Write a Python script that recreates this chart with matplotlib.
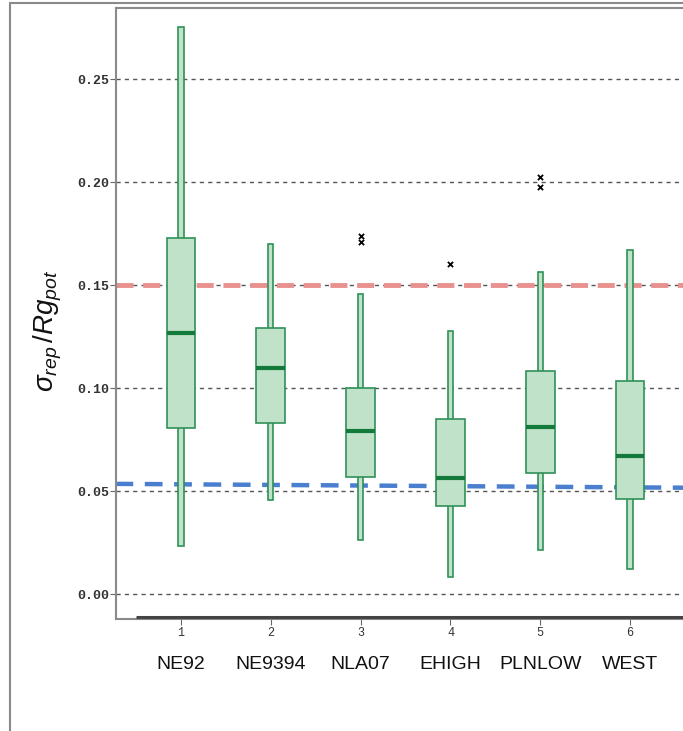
#Import the required packages
import matplotlib
matplotlib.use("Agg")
import matplotlib.pyplot as plt
from matplotlib.patches import Rectangle

plt.rcParams["mathtext.fontset"] = "custom"
plt.rcParams["mathtext.rm"] = "Liberation Sans"
plt.rcParams["mathtext.it"] = "Liberation Sans:italic"
plt.rcParams["hatch.linewidth"] = 0.35

#Data
positions = [1, 2, 3, 4, 5, 6]
regions = ["NE92", "NE9394", "NLA07", "EHIGH", "PLNLOW", "WEST"]
whisker_low = [0.0233, 0.0456, 0.0262, 0.0083, 0.0214, 0.0121]
q1 = [0.0806, 0.0830, 0.0568, 0.0427, 0.0587, 0.0461]
median = [0.1267, 0.1097, 0.0791, 0.0563, 0.0811, 0.0670]
q3 = [0.1728, 0.1290, 0.1000, 0.0850, 0.1083, 0.1034]
whisker_high = [0.2752, 0.1700, 0.1456, 0.1277, 0.1563, 0.1670]
outlier_x = [3, 3, 4, 5, 5]
outlier_y = [0.1738, 0.1709, 0.1600, 0.2024, 0.1976]
red_level = 0.15
blue_x = [0.27, 6.7]
blue_y = [0.0535, 0.0516]

#Figure and axes
fig = plt.figure(figsize=(6.83, 7.31), dpi=100)
ax = fig.add_axes([116 / 683, 1 - 619 / 731, 600 / 683, 611 / 731])
ax.set_xlim(0.276, 0.276 + 600 / 89.8)
ax.set_ylim(-0.0121, 0.2845)

#Outer frame of the figure
fig.patches.append(Rectangle((10 / 683, -0.05), 1.2, 1.05 - 3 / 731, transform=fig.transFigure,
                             fill=False, edgecolor="#8a8a8a", linewidth=1.5))

#Grid lines
for v in [0.0, 0.05, 0.10, 0.15, 0.20, 0.25]:
    ax.axhline(v, color="#555555", linestyle=(0, (3, 3)), linewidth=1, zorder=1)

#Reference lines
ax.axhline(red_level, color="#e8918f", linestyle=(0, (3.5, 2)), linewidth=3.5, zorder=2)
ax.plot(blue_x, blue_y, color="#4a7fcf", linestyle=(0, (4, 2.6)), linewidth=3.2, zorder=2)

#Boxes and whiskers
box_w = 0.32
wh_w = 0.058
green = "#2f9158"
light = "#bfe2c8"
wh_bottom = [lo for lo in whisker_low]
wh_height = [hi - lo for lo, hi in zip(whisker_low, whisker_high)]
box_height = [b - a for a, b in zip(q1, q3)]
hatch = "+" * 24

ax.bar(positions, wh_height, bottom=wh_bottom, width=wh_w, facecolor="#f4faf5",
       edgecolor=light, hatch=hatch, linewidth=0, zorder=3)
ax.bar(positions, wh_height, bottom=wh_bottom, width=wh_w, facecolor="none",
       edgecolor=green, linewidth=1.2, zorder=4)
ax.bar(positions, box_height, bottom=q1, width=box_w, facecolor="#f4faf5",
       edgecolor=light, hatch=hatch, linewidth=0, zorder=5)
ax.bar(positions, box_height, bottom=q1, width=box_w, facecolor="none",
       edgecolor=green, linewidth=1.2, zorder=6)
ax.hlines(median, [p - box_w / 2 for p in positions], [p + box_w / 2 for p in positions],
          color="#137a3c", linewidth=3, zorder=7)

#Outliers
ax.scatter(outlier_x, outlier_y, marker="x", s=14, color="black", linewidth=1.3, zorder=8)

#Axes styling
for s in ["left", "top", "bottom"]:
    ax.spines[s].set_color("#8a8a8a")
    ax.spines[s].set_linewidth(1.5)
ax.spines["right"].set_visible(False)
ax.hlines(-0.0111, 0.5, 7.0, color="#444444", linewidth=2.2, clip_on=False, zorder=9)

ax.set_yticks([0.0, 0.05, 0.10, 0.15, 0.20, 0.25])
ax.set_yticklabels(["0.00", "0.05", "0.10", "0.15", "0.20", "0.25"])
ax.set_xticks(positions)
ax.set_xticklabels([str(p) for p in positions])
ax.tick_params(axis="y", length=4, color="#666666", labelcolor="#333333", pad=1)
ax.tick_params(axis="x", length=4, color="#666666", labelcolor="#333333", pad=2)
for lab in ax.get_yticklabels():
    lab.set_fontfamily("Liberation Mono")
    lab.set_fontweight("bold")
    lab.set_fontsize(9.5)
for lab in ax.get_xticklabels():
    lab.set_fontfamily("Liberation Mono")
    lab.set_fontsize(8.5)

#Region names under the tick numbers
for p, name in zip(positions, regions):
    ax.text(p, -0.075, name, transform=ax.get_xaxis_transform(), ha="center", va="center",
            fontsize=14, family="Liberation Sans", color="#111111")

#Y label
fig.text(48 / 683, 1 - 331 / 731, r"$\sigma_{rep}\,/Rg_{pot}$", rotation=90,
         ha="center", va="center", fontsize=20, color="#111111")

#Save the plot
plt.savefig("out.png", dpi=100)
